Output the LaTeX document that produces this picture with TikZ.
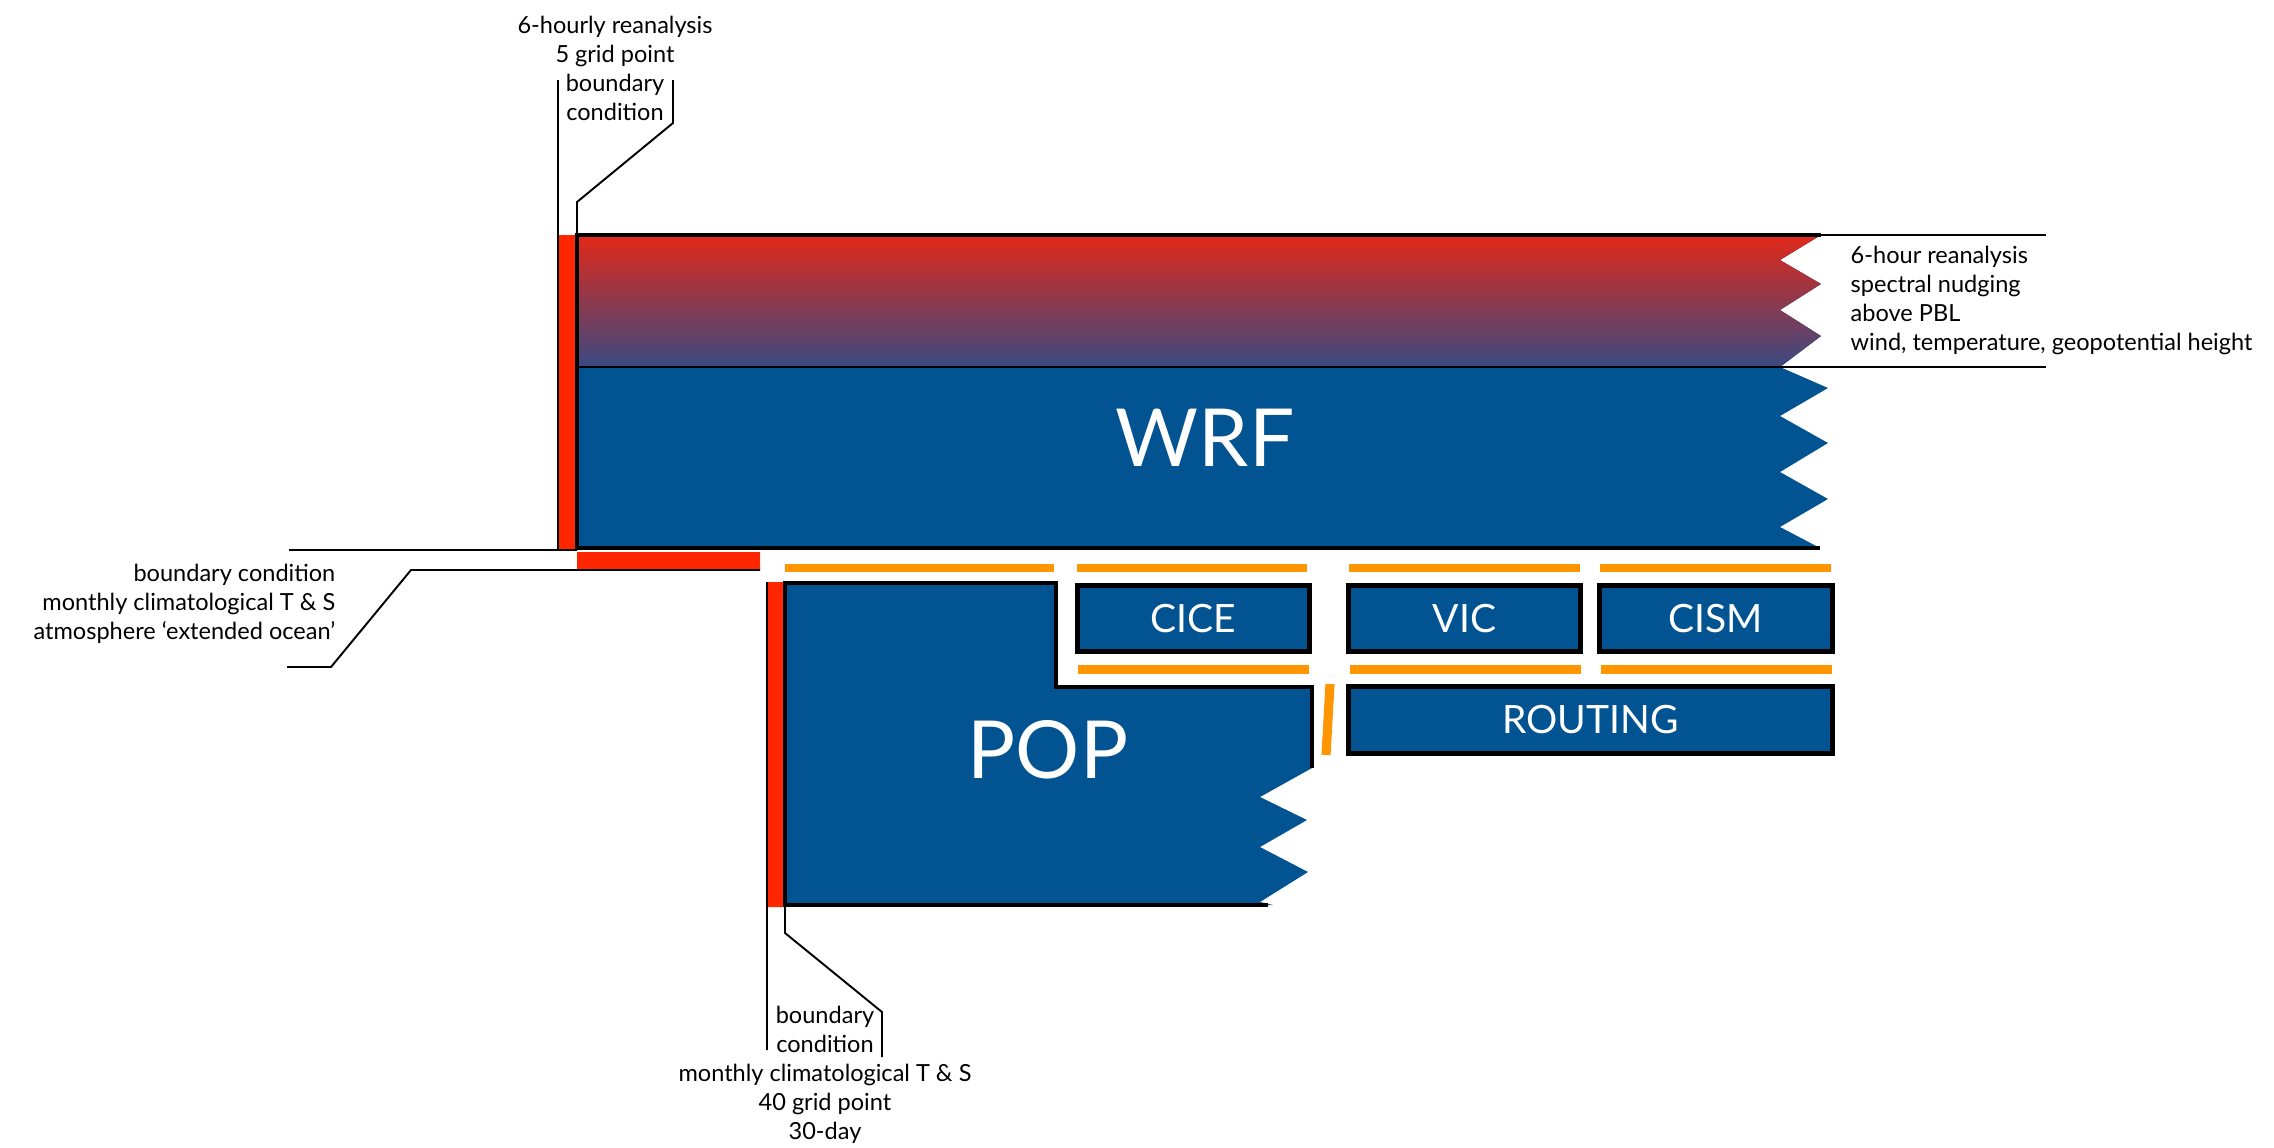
\documentclass[tikz,border=0pt]{standalone}
\usepackage{fontspec}
\setmainfont{Lato}
\definecolor{modelblue}{RGB}{2,83,146}
\definecolor{bcred}{RGB}{255,38,0}
\definecolor{nudgered}{RGB}{226,40,24}
\definecolor{nudgeblue}{RGB}{58,74,130}
\definecolor{couplorange}{RGB}{255,150,0}
\begin{document}
\begin{tikzpicture}[x=0.1mm,y=-0.1mm,
    outline/.style={line width=1.3pt},
    leader/.style={line width=0.55pt},
    coupler/.style={couplorange,line width=2.3pt},
    note/.style={inner sep=0,font=\fontsize{6.7}{8.25}\selectfont},
    comp/.style={draw,outline,fill=modelblue,text=white,inner sep=0,minimum width=23.25mm,minimum height=6.65mm,font=\fontsize{11.1}{13}\selectfont},
    model/.style={text=white,inner sep=0,font=\fontsize{22.8}{26}\selectfont}]
  \useasboundingbox (0,0) rectangle (2274,1147);
  % WRF
  \fill[modelblue] (577,235)--(1821,235)--(1780,260)--(1821,284)--(1780,310)--(1821,336)--(1780,367)--(1828,388)--(1780,416)--(1828,443)--(1780,472)--(1828,499)--(1780,527)--(1820,548)--(577,548)--cycle;
  \shade[top color=nudgered,bottom color=nudgeblue] (577,235)--(1821,235)--(1780,260)--(1821,284)--(1780,310)--(1821,336)--(1780,367)--(577,367)--cycle;
  % POP
  \fill[modelblue] (785,583)--(1056,583)--(1056,687)--(1312,687)--(1312,768)--(1260,797)--(1307,820)--(1260,847)--(1308,872)--(1260,902)--(1273,905)--(785,905)--cycle;
  \fill[bcred] (558,235) rectangle (577,550) (577,552) rectangle (760,570) (767,582) rectangle (783,907);
  \draw[outline] (1821,235)--(577,235)--(577,548)--(1820,548);
  \draw[outline] (1312,768)--(1312,687)--(1056,687)--(1056,583)--(785,583)--(785,905)--(1268,905);
  \node[model](WRF) at (1205,438){WRF};
  \node[model](POP) at (1048,750){POP};
  \foreach \n/\x/\y/\w in {CICE/1193.5/618.5/23.25mm,VIC/1464.5/618.5/23.25mm,CISM/1716/618.5/23.35mm,ROUTING/1590.5/720/48.45mm}
    \node[comp,minimum width=\w](\n) at (\x,\y){\n};
  \foreach \a/\b/\y in {785/1054/568,1077/1307/568,1349/1580/568,1600/1831/568,1078/1309/669.5,1350/1581/669.5,1601/1832/669.5}
    \draw[coupler] (\a,\y)--(\b,\y);
  \draw[coupler,line width=2.6pt] (1330,684)--(1326,755);
  % notes
  \node[note,align=center](topnote) at (615,68){6-hourly reanalysis\\5 grid point\\boundary\\condition};
  \node[note,align=left,anchor=west](rightnote) at (1850,300){6-hour reanalysis\\spectral nudging\\above PBL\\wind, temperature, geopotential height};
  \node[note,align=right,anchor=east](leftnote) at (336,604){boundary condition\\monthly climatological T \& S\\atmosphere ‘extended ocean’};
  \node[note,align=center](botnote) at (825,1075){boundary\\condition\\monthly climatological T \& S\\40 grid point\\30-day};
  \draw[leader] (1821,235)--(2046,235) (577,367)--(2046,367);
  \draw[leader] (558,80)--(558,550) (673,80)--(673,123)--(577,202)--(577,235);
  \draw[leader] (289,550)--(577,550) (760,570)--(411,570)--(331,667)--(287,667);
  \draw[leader] (767,582)--(767,1050) (785,905)--(785,933)--(882,1012)--(882,1057);
\end{tikzpicture}
\end{document}
